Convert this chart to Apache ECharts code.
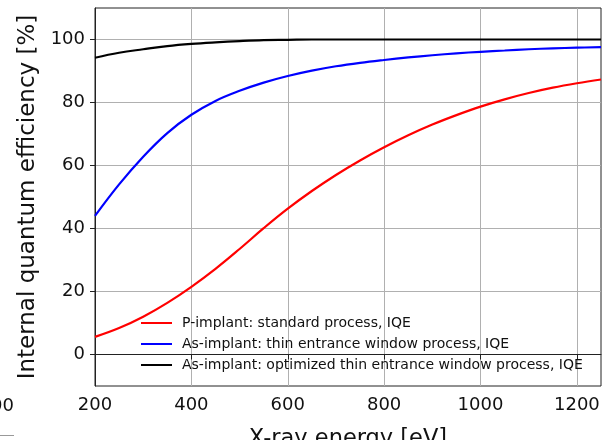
<!DOCTYPE html>
<html>
<head>
<meta charset="utf-8">
<script src="https://cdn.jsdelivr.net/npm/echarts@6/dist/echarts.min.js"></script>
<style>
html,body{margin:0;padding:0;background:#fff;}
#c{width:605px;height:440px;}
</style>
</head>
<body>
<div id="c"></div>
<script>
const energy = [200,250,300,350,400,450,500,550,600,650,700,750,800,850,900,950,1000,1050,1100,1150,1200,1250];
const pImplant = [5.6,8.4,12.0,16.4,21.5,27.2,33.5,40.1,46.3,51.9,57.0,61.6,65.8,69.6,73.0,76.0,78.7,81.0,83.0,84.7,86.1,87.3];
const asThin = [44.0,54.0,62.8,70.3,76.1,80.5,83.7,86.3,88.4,90.1,91.5,92.6,93.5,94.3,95.0,95.6,96.1,96.5,96.9,97.2,97.4,97.6];
const asOpt = [94.2,95.8,96.9,97.9,98.6,99.1,99.5,99.8,99.9,100,100,100,100,100,100,100,100,100,100,100,100,100];
const seriesNames = ['P-implant: standard process, IQE','As-implant: thin entrance window process, IQE','As-implant: optimized thin entrance window process, IQE'];
const seriesColors = ['#ff0000','#0000ff','#000000'];
const xTicks = [200,400,600,800,1000,1200];
const yTicks = [0,20,40,60,80,100];

const font = 'DejaVu Sans';
const chart = echarts.init(document.getElementById('c'), null, {renderer:'canvas'});
const mk = (name, vals, color) => ({
  name: name, type:'line', smooth:0.4, symbol:'none', showSymbol:false,
  data: energy.map((e,i)=>[e, vals[i]]),
  lineStyle:{color:color, width:2.2}, itemStyle:{color:color}
});
chart.setOption({
  animation:false,
  backgroundColor:'#fff',
  grid:{left:95, right:4, top:8, height:378, outerBoundsMode:'none', containLabel:false, show:true, borderColor:'#222', borderWidth:1, backgroundColor:'transparent'},
  legend:{
    orient:'vertical', left:141, top:315, padding:0, itemWidth:31, itemHeight:2, icon:'rect', itemGap:5,
    textStyle:{fontFamily:font, fontSize:14, color:'#111', lineHeight:16, padding:[0,0,0,5]},
    data: seriesNames
  },
  xAxis:{
    type:'value', min:200, max:1250,
    name:'X-ray energy [eV]', nameLocation:'middle', nameGap:42,
    nameTextStyle:{fontFamily:font, fontSize:22.5, color:'#111'},
    axisLine:{show:true, lineStyle:{color:'#222', width:1}},
    axisTick:{show:true, inside:false, length:5, lineStyle:{color:'#222'}, customValues:xTicks},
    axisLabel:{fontFamily:font, fontSize:18, color:'#111', margin:10, customValues:xTicks, formatter:(v)=>String(v)},
    splitLine:{show:true, lineStyle:{color:'#b0b0b0', width:1}}
  },
  yAxis:{
    type:'value', min:-10, max:110,
    name:'Internal quantum efficiency [%]', nameLocation:'middle', nameGap:55, nameRotate:90,
    nameTextStyle:{fontFamily:font, fontSize:23, color:'#111'},
    axisLine:{show:true, lineStyle:{color:'#222', width:1}},
    axisTick:{show:true, inside:false, length:5, lineStyle:{color:'#222'}, customValues:yTicks},
    axisLabel:{fontFamily:font, fontSize:18, color:'#111', margin:10, customValues:yTicks, formatter:(v)=>String(v)},
    splitLine:{show:true, lineStyle:{color:'#b0b0b0', width:1}}
  },
  graphic:[
    {type:'text', x:14, y:406, style:{text:'1200', fontFamily:font, fontSize:18, fill:'#111', textAlign:'right', textVerticalAlign:'middle'}, silent:true},
    {type:'rect', shape:{x:0, y:435, width:14, height:1}, style:{fill:'#999'}, silent:true}
  ],
  series:[
    mk(seriesNames[0], pImplant, seriesColors[0]),
    mk(seriesNames[1], asThin, seriesColors[1]),
    mk(seriesNames[2], asOpt, seriesColors[2])
  ]
});
</script>
</body>
</html>
